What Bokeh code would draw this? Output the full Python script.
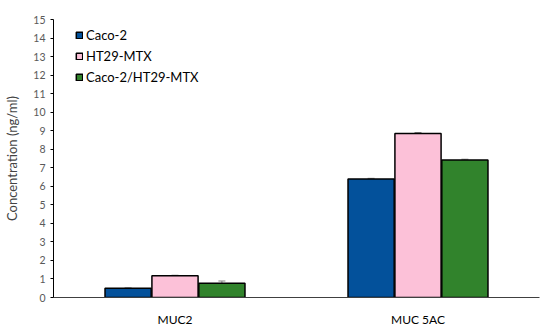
from bokeh.plotting import figure
from bokeh.models import ColumnDataSource, FactorRange, Range1d, Whisker, Legend, LegendItem, FixedTicker
from bokeh.transform import dodge
from bokeh.embed import file_html
from bokeh.resources import INLINE

categories = ["MUC2", "MUC 5AC"]
series_names = ["Caco-2", "HT29-MTX", "Caco-2/HT29-MTX"]
caco2 = [0.50, 6.40]
ht29 = [1.17, 8.85]
coculture = [0.77, 7.42]
caco2_err = [0.02, 0.03]
ht29_err = [0.03, 0.05]
coculture_err = [0.12, 0.04]
y_ticks = list(range(0, 16))

colors = ["#03519B", "#FCC1D8", "#31832C"]
offsets = [-0.193, 0.0, 0.193]
bar_w = 0.19

p = figure(x_range=FactorRange(*categories), y_range=Range1d(0, 15),
           width=550, height=331, output_backend="svg", toolbar_location=None,
           min_border_left=53, min_border_right=11, min_border_top=19, min_border_bottom=34)

font = "Lato"
items = []
for name, vals, errs, col, off in zip(series_names, [caco2, ht29, coculture],
                                     [caco2_err, ht29_err, coculture_err], colors, offsets):
    src = ColumnDataSource(dict(cat=categories, top=vals,
                                upper=[v + e for v, e in zip(vals, errs)]))
    r = p.vbar(x=dodge("cat", off, range=p.x_range), top="top", width=bar_w, source=src,
               fill_color=col, line_color="black", line_width=1.5)
    w = Whisker(base=dodge("cat", off, range=p.x_range), lower="top", upper="upper", source=src,
                line_color="#808080", line_width=1)
    w.upper_head.size = 7
    w.upper_head.line_color = "#808080"
    w.lower_head = None
    p.add_layout(w)
    items.append(LegendItem(label=name, renderers=[r]))

legend = Legend(items=items, location=(22, 212), background_fill_alpha=0, border_line_alpha=0,
                label_text_font=font, label_text_font_size="13px", label_text_color="black",
                glyph_width=8, glyph_height=8, spacing=5, margin=0, padding=0,
                label_standoff=3, label_height=16)
p.add_layout(legend)

p.grid.visible = False
p.outline_line_color = None
p.background_fill_color = "white"

p.yaxis.ticker = FixedTicker(ticks=y_ticks)
p.yaxis.axis_label = "Concentration (ng/ml)"
p.yaxis.axis_label_text_font = font
p.yaxis.axis_label_text_font_style = "normal"
p.yaxis.axis_label_text_font_size = "13px"
p.yaxis.axis_label_standoff = 10
p.yaxis.major_label_text_font = font
p.yaxis.major_label_text_font_size = "10.5px"
p.yaxis.major_label_text_color = "#595959"
p.yaxis.axis_line_color = "black"
p.yaxis.major_tick_line_color = "black"
p.yaxis.major_tick_out = 3
p.yaxis.major_tick_in = 0
p.yaxis.minor_tick_line_color = None

p.xaxis.major_tick_line_color = None
p.xaxis.major_tick_out = 0
p.xaxis.major_tick_in = 0
p.xaxis.minor_tick_line_color = None
p.xaxis.axis_line_color = "#404040"
p.xaxis.major_label_text_font = font
p.xaxis.major_label_text_font_size = "12px"
p.xaxis.major_label_text_color = "black"
p.xaxis.major_label_standoff = 14

open("out.html", "w").write(file_html(p, INLINE))
